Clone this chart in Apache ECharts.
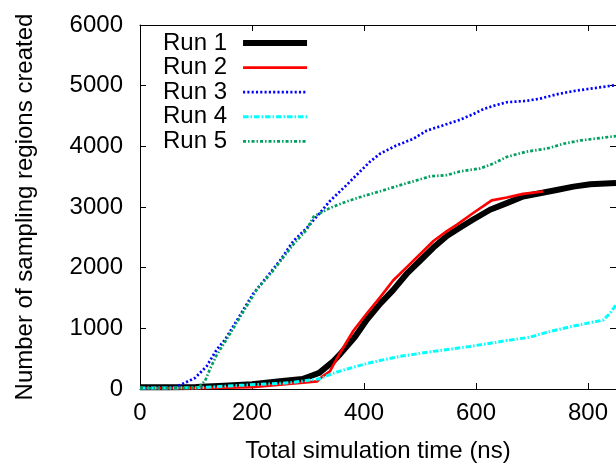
<!DOCTYPE html>
<html>
<head>
<meta charset="utf-8">
<script src="https://cdn.jsdelivr.net/npm/echarts@6/dist/echarts.min.js"></script>
<style>
html,body{margin:0;padding:0;background:#fff;}
#c{width:616px;height:468px;}
</style>
</head>
<body>
<div id="c"></div>
<script>
// ---- data ----
const seriesNames = ['Run 1', 'Run 2', 'Run 3', 'Run 4', 'Run 5'];
const xTicks = [0, 200, 400, 600, 800];
const yTicks = [0, 1000, 2000, 3000, 4000, 5000, 6000];

const run1X = [0, 50, 100, 150, 200, 250, 290, 305, 320, 345, 357, 369, 384, 405, 429, 452, 476, 500, 524, 548, 571, 595, 625, 655, 684, 714, 744, 774, 804, 850];
const run1Y = [30, 30, 35, 55, 80, 130, 165, 215, 266, 456, 570, 700, 860, 1141, 1407, 1630, 1896, 2114, 2331, 2522, 2657, 2793, 2955, 3064, 3173, 3227, 3281, 3336, 3374, 3395];

const run2X = [0, 100, 200, 286, 316, 325, 339, 357, 381, 405, 429, 452, 476, 500, 524, 548, 566, 595, 628, 655, 684, 720];
const run2Y = [15, 15, 30, 100, 125, 200, 290, 590, 960, 1244, 1516, 1788, 2005, 2222, 2440, 2603, 2711, 2901, 3108, 3157, 3216, 3255];

const run3X = [0, 60, 75, 98, 119, 137, 152, 179, 202, 226, 250, 274, 298, 321, 339, 369, 393, 411, 429, 458, 488, 512, 536, 571, 595, 613, 631, 655, 690, 714, 744, 774, 804, 850];
const run3Y = [10, 20, 80, 180, 375, 650, 815, 1220, 1570, 1842, 2117, 2440, 2657, 2900, 3097, 3363, 3586, 3749, 3880, 4015, 4124, 4259, 4330, 4436, 4531, 4613, 4667, 4727, 4749, 4786, 4857, 4911, 4950, 5010];

const run4X = [0, 100, 179, 268, 321, 345, 370, 405, 434, 464, 524, 589, 655, 696, 726, 774, 827, 839, 850];
const run4Y = [15, 20, 60, 103, 168, 260, 330, 420, 480, 538, 620, 701, 799, 853, 934, 1038, 1136, 1244, 1385];

const run5X = [0, 100, 107, 116, 125, 137, 152, 179, 208, 238, 274, 298, 310, 339, 369, 399, 429, 458, 488, 518, 548, 571, 607, 631, 655, 690, 726, 756, 786, 850];
const run5Y = [10, 20, 50, 130, 330, 560, 780, 1190, 1630, 1955, 2385, 2630, 2840, 2983, 3092, 3180, 3260, 3342, 3423, 3505, 3526, 3586, 3635, 3716, 3826, 3912, 3961, 4042, 4096, 4170];

// ---- build chart ----
const FONT = "'Liberation Sans', Arial, Helvetica, sans-serif";
function pairs(xs, ys) { return xs.map((x, i) => [x, ys[i]]); }

const styles = [
  { color: '#000000', width: 6, type: 'solid' },
  { color: '#ff0000', width: 2.7, type: 'solid' },
  { color: '#0000ff', width: 2.7, type: [2.1, 2.2] },
  { color: '#00ffff', width: 3, type: [5.5, 2, 1.5, 2] },
  { color: '#00a060', width: 2.7, type: [3, 2, 1.5, 2] }
];
const datas = [pairs(run1X, run1Y), pairs(run2X, run2Y), pairs(run3X, run3Y), pairs(run4X, run4Y), pairs(run5X, run5Y)];

const xMin = xTicks[0], xMax = 850, xInt = xTicks[1] - xTicks[0];
const yMin = yTicks[0], yMax = yTicks[yTicks.length - 1], yInt = yTicks[1] - yTicks[0];

const chart = echarts.init(document.getElementById('c'));
chart.setOption({
  animation: false,
  backgroundColor: '#fff',
  textStyle: { fontFamily: FONT },
  grid: { left: 140, right: 0, top: 25, bottom: 75, containLabel: false },
  legend: {
    data: seriesNames.map((n, i) => ({
      name: n,
      lineStyle: { color: styles[i].color, width: styles[i].width, type: styles[i].type, cap: 'butt' },
      itemStyle: { opacity: 0, borderWidth: 0 }
    })),
    orient: 'vertical',
    left: 163,
    top: 30.7,
    align: 'right',
    padding: 0,
    itemGap: 0,
    itemWidth: 64,
    itemHeight: 10,
    itemStyle: { opacity: 0, borderWidth: 0 },
    textStyle: { fontSize: 24, lineHeight: 24.6, color: '#000', fontFamily: FONT, padding: [0, 11, 0, 0] }
  },
  xAxis: [
    {
      type: 'value', position: 'bottom', min: xMin, max: xMax, interval: xInt,
      name: 'Total simulation time (ns)', nameLocation: 'middle', nameGap: 50,
      nameTextStyle: { fontSize: 24, color: '#000', fontFamily: FONT },
      axisLine: { show: true, onZero: false, lineStyle: { color: '#000', width: 1 } },
      axisTick: { show: true, inside: true, length: 6, lineStyle: { color: '#000' } },
      axisLabel: { fontSize: 24, color: '#000', margin: 12, showMaxLabel: false, fontFamily: FONT, formatter: v => String(v) },
      splitLine: { show: false }
    },
    {
      type: 'value', position: 'top', min: xMin, max: xMax, interval: xInt,
      axisLine: { show: true, onZero: false, lineStyle: { color: '#000', width: 1 } },
      axisTick: { show: true, inside: true, length: 6, lineStyle: { color: '#000' } },
      axisLabel: { show: false },
      splitLine: { show: false }
    }
  ],
  yAxis: [
    {
      type: 'value', position: 'left', min: yMin, max: yMax, interval: yInt,
      name: 'Number of sampling regions created', nameLocation: 'middle', nameGap: 103,
      nameTextStyle: { fontSize: 24, color: '#000', fontFamily: FONT },
      axisLine: { show: true, onZero: false, lineStyle: { color: '#000', width: 1 } },
      axisTick: { show: true, inside: true, length: 6, lineStyle: { color: '#000' } },
      axisLabel: { fontSize: 24, color: '#000', margin: 17, fontFamily: FONT, formatter: v => String(v) },
      splitLine: { show: false }
    },
    {
      type: 'value', position: 'right', min: yMin, max: yMax, interval: yInt,
      axisLine: { show: true, onZero: false, lineStyle: { color: '#000', width: 1 } },
      axisTick: { show: true, inside: true, length: 6, lineStyle: { color: '#000' } },
      axisLabel: { show: false },
      splitLine: { show: false }
    }
  ],
  series: seriesNames.map((name, i) => ({
    name: name,
    type: 'line',
    xAxisIndex: 0,
    yAxisIndex: 0,
    data: datas[i],
    symbol: 'none',
    showSymbol: false,
    smooth: false,
    clip: true,
    color: styles[i].color,
    lineStyle: { color: styles[i].color, width: styles[i].width, type: styles[i].type, cap: 'butt', join: 'round' },
    emphasis: { disabled: true }
  }))
});
</script>
</body>
</html>
